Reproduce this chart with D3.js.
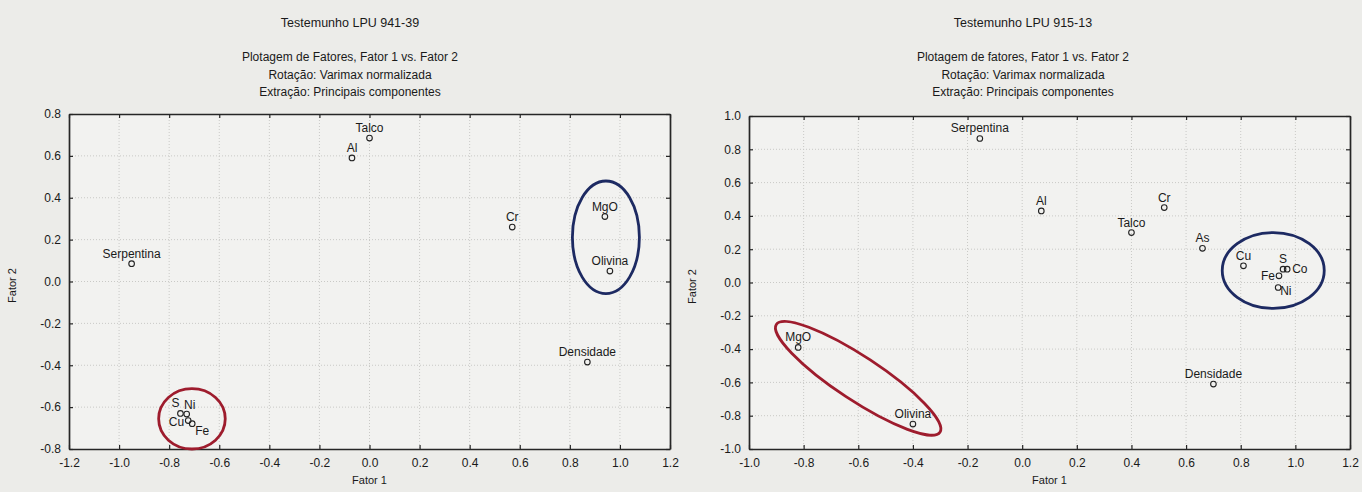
<!DOCTYPE html>
<html>
<head>
<meta charset="utf-8">
<script src="https://cdn.jsdelivr.net/npm/d3@7"></script>
<style>
  body { margin: 0; background: #ecece9; }
  svg { display: block; }
  text { font-family: "Liberation Sans", Arial, sans-serif; fill: #1a1a1a; }
</style>
</head>
<body>
<svg width="1362" height="492"></svg>
<script>
// --- Testemunho LPU 941-39 ---
const names1 = ["Serpentina", "Al", "Talco", "Cr", "MgO", "Olivina", "Densidade", "S", "Ni", "Cu", "Fe"]
const fator1_941 = [-0.95, -0.07, 0.00, 0.57, 0.94, 0.96, 0.87, -0.755, -0.73, -0.724, -0.708]
const fator2_941 = [0.085, 0.59, 0.685, 0.26, 0.31, 0.05, -0.385, -0.63, -0.633, -0.664, -0.679]
const xTicks1 = [-1.2, -1.0, -0.8, -0.6, -0.4, -0.2, 0.0, 0.2, 0.4, 0.6, 0.8, 1.0, 1.2]
const yTicks1 = [-0.8, -0.6, -0.4, -0.2, 0.0, 0.2, 0.4, 0.6, 0.8]

// --- Testemunho LPU 915-13 ---
const names2 = ["Serpentina", "Al", "Cr", "Talco", "As", "Cu", "S", "Co", "Fe", "Ni", "MgO", "Olivina", "Densidade"]
const fator1_915 = [-0.155, 0.07, 0.52, 0.40, 0.66, 0.81, 0.955, 0.97, 0.94, 0.937, -0.82, -0.40, 0.70]
const fator2_915 = [0.865, 0.43, 0.45, 0.30, 0.205, 0.10, 0.08, 0.08, 0.04, -0.03, -0.39, -0.85, -0.61]
const xTicks2 = [-1.0, -0.8, -0.6, -0.4, -0.2, 0.0, 0.2, 0.4, 0.6, 0.8, 1.0, 1.2]
const yTicks2 = [-1.0, -0.8, -0.6, -0.4, -0.2, 0.0, 0.2, 0.4, 0.6, 0.8, 1.0]

const subtitles = ["Rotação: Varimax normalizada", "Extração: Principais componentes"]

// hand drawn groupings: two tips in data units + half width in px
const groups1 = [
  { x1: 0.944, y1: 0.48, x2: 0.944, y2: -0.058, hw: 33.5, color: "#1d2a62" },
  { x1: -0.709, y1: -0.512, x2: -0.709, y2: -0.800, hw: 33.3, color: "#9e1c2d" }
]
const groups2 = [
  { x1: 0.919, y1: 0.300, x2: 0.919, y2: -0.156, hw: 51, color: "#1d2a62" },
  { x1: -0.900, y1: -0.252, x2: -0.301, y2: -0.899, hw: 22, color: "#9e1c2d" }
]

// labels that were moved off the default "above" spot
const labelPos1 = {
  S: { dx: -5, dy: -6, anchor: "middle" },
  Ni: { dx: 3, dy: -5, anchor: "middle" },
  Cu: { dx: -4, dy: 5, anchor: "end" },
  Fe: { dx: 3, dy: 11, anchor: "start" }
}
const labelPos2 = {
  Co: { dx: 5, dy: 4, anchor: "start" },
  Fe: { dx: -4, dy: 4, anchor: "end" },
  Ni: { dx: 2, dy: 8, anchor: "start" }
}

const svg = d3.select("svg")
const fmt = d => d3.format(".1f")(d).replace("\u2212", "-")

function drawPanel(p) {
  const x = d3.scaleLinear().domain(p.xDomain).range([p.left, p.right])
  const y = d3.scaleLinear().domain(p.yDomain).range([p.bottom, p.top])
  const g = svg.append("g")

  // titles
  g.append("text").attr("x", p.cx).attr("y", 27).attr("text-anchor", "middle")
    .style("font-size", "12.5px").text(p.title)
  const lines = [p.subtitle].concat(subtitles)
  g.selectAll(".sub").data(lines).enter().append("text")
    .attr("x", p.cx).attr("y", (d, i) => 61 + i * 17.5)
    .attr("text-anchor", "middle").style("font-size", "12px")
    .text(d => d)

  g.append("rect").attr("x", p.left).attr("y", p.top)
    .attr("width", p.right - p.left).attr("height", p.bottom - p.top)
    .attr("fill", "#f2f2f0")

  // grid
  g.selectAll(".gx").data(p.xTicks.slice(1, -1)).enter().append("line")
    .attr("x1", d => x(d)).attr("x2", d => x(d))
    .attr("y1", p.top).attr("y2", p.bottom)
    .attr("stroke", "#c9c9c6").attr("stroke-dasharray", "1,2")
  g.selectAll(".gy").data(p.yTicks.slice(1, -1)).enter().append("line")
    .attr("y1", d => y(d)).attr("y2", d => y(d))
    .attr("x1", p.left).attr("x2", p.right)
    .attr("stroke", "#c9c9c6").attr("stroke-dasharray", "1,2")

  // axes (ticks point inward)
  const ax = [
    g.append("g").attr("transform", `translate(0,${p.bottom})`)
      .call(d3.axisBottom(x).tickValues(p.xTicks).tickFormat(fmt).tickSizeInner(-4).tickSizeOuter(0).tickPadding(9)),
    g.append("g").attr("transform", `translate(${p.left},0)`)
      .call(d3.axisLeft(y).tickValues(p.yTicks).tickFormat(fmt).tickSizeInner(-4).tickSizeOuter(0).tickPadding(8)),
    g.append("g").attr("transform", `translate(0,${p.top})`)
      .call(d3.axisTop(x).tickValues(p.xTicks).tickFormat("").tickSizeInner(-4).tickSizeOuter(0)),
    g.append("g").attr("transform", `translate(${p.right},0)`)
      .call(d3.axisRight(y).tickValues(p.yTicks).tickFormat("").tickSizeInner(-4).tickSizeOuter(0))
  ]
  ax.forEach(a => {
    a.select(".domain").attr("stroke", "#262626").attr("stroke-width", 1.7)
    a.selectAll(".tick line").attr("stroke", "#262626").attr("stroke-width", 1.2)
    a.selectAll("text").style("font-size", "12px").attr("fill", "#1a1a1a")
      .attr("font-family", null)
  })

  g.append("text").attr("x", (p.left + p.right) / 2).attr("y", 484)
    .attr("text-anchor", "middle").style("font-size", "11px").text("Fator 1")
  g.append("text").attr("transform", `translate(${p.left - 53},${(p.top + p.bottom) / 2 + 4}) rotate(-90)`)
    .attr("text-anchor", "middle").style("font-size", "11px").text("Fator 2")

  // points
  const pts = p.names.map((n, i) => ({ name: n, fx: p.f1[i], fy: p.f2[i] }))
  g.selectAll(".pt").data(pts).enter().append("circle")
    .attr("cx", d => x(d.fx)).attr("cy", d => y(d.fy)).attr("r", 2.8)
    .attr("fill", "none").attr("stroke", "#222").attr("stroke-width", 1.1)
  g.selectAll(".lb").data(pts).enter().append("text")
    .each(function (d) {
      const o = p.labels[d.name] || { dx: 0, dy: -6, anchor: "middle" }
      d3.select(this).attr("x", x(d.fx) + o.dx).attr("y", y(d.fy) + o.dy)
        .attr("text-anchor", o.anchor)
    })
    .style("font-size", "12px").text(d => d.name)

  // circled groups
  p.groups.forEach(e => {
    const ax1 = x(e.x1), ay1 = y(e.y1), ax2 = x(e.x2), ay2 = y(e.y2)
    const len = Math.hypot(ax2 - ax1, ay2 - ay1) / 2
    const ang = Math.atan2(ay2 - ay1, ax2 - ax1) * 180 / Math.PI
    g.append("ellipse")
      .attr("transform", `translate(${(ax1 + ax2) / 2},${(ay1 + ay2) / 2}) rotate(${ang})`)
      .attr("rx", len).attr("ry", e.hw)
      .attr("fill", "none").attr("stroke", e.color).attr("stroke-width", 2.8)
  })
}

drawPanel({
  left: 69, right: 670, top: 114, bottom: 449, cx: 350,
  xDomain: [-1.2, 1.2], yDomain: [-0.8, 0.8], xTicks: xTicks1, yTicks: yTicks1,
  title: "Testemunho LPU 941-39", subtitle: "Plotagem de Fatores, Fator 1 vs. Fator 2",
  names: names1, f1: fator1_941, f2: fator2_941, groups: groups1, labels: labelPos1
})
drawPanel({
  left: 749, right: 1350, top: 116, bottom: 449, cx: 1023,
  xDomain: [-1.0, 1.2], yDomain: [-1.0, 1.0], xTicks: xTicks2, yTicks: yTicks2,
  title: "Testemunho LPU 915-13", subtitle: "Plotagem de fatores, Fator 1 vs. Fator 2",
  names: names2, f1: fator1_915, f2: fator2_915, groups: groups2, labels: labelPos2
})
</script>
</body>
</html>
